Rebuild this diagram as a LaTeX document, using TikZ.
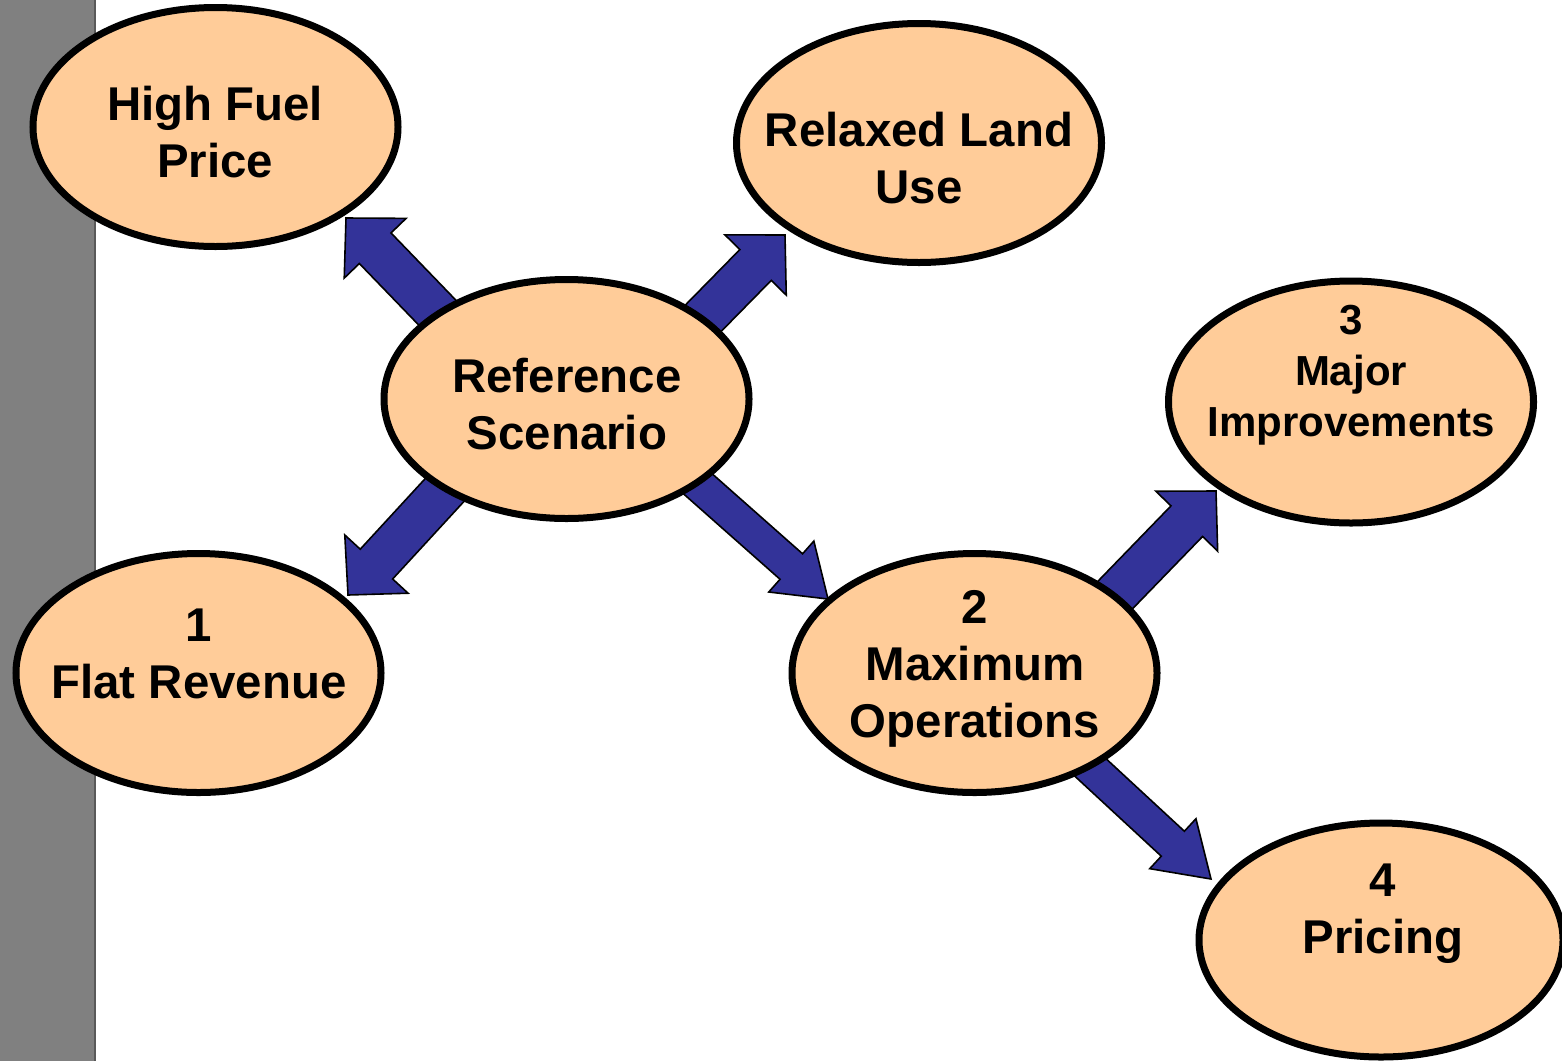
\documentclass[tikz,border=0pt]{standalone}
\usepackage{fontspec}
\setmainfont{Liberation Sans}
\usetikzlibrary{calc,shapes.geometric,backgrounds}
\definecolor{peach}{HTML}{FFCC99}
\definecolor{arrowblue}{HTML}{333399}
\definecolor{bargray}{HTML}{808080}
% block arrow: #1 start, #2 tip, #3 shaft half width, #4 head half width, #5 head length
\newcommand\blockarrow[5]{%
  \draw[blockarrow] let \p1=(#1), \p2=(#2), \n1={atan2(\y2-\y1,\x2-\x1)} in
    ($(\p1)+(\n1+90:#3)$) --
    ($(\p2)+(\n1+180:#5)+(\n1+90:#3)$) --
    ($(\p2)+(\n1+180:#5)+(\n1+90:#4)$) --
    (\p2) --
    ($(\p2)+(\n1+180:#5)+(\n1-90:#4)$) --
    ($(\p2)+(\n1+180:#5)+(\n1-90:#3)$) --
    ($(\p1)+(\n1-90:#3)$) -- cycle;}
\tikzset{
  oval/.style={ellipse, draw=black, line width=3.5pt, fill=peach,
    minimum width=182.5pt, minimum height=119.5pt, inner sep=0pt},
  txt/.style={anchor=north, inner sep=0pt, align=center,
    font=\fontsize{23.7}{28.5}\selectfont\bfseries},
  smalltxt/.style={txt, font=\fontsize{21}{25.5}\selectfont\bfseries},
  blockarrow/.style={fill=arrowblue, draw=black, line width=0.8pt, line join=miter}
}
\begin{document}
\begin{tikzpicture}[x=0.5pt, y=-0.5pt]
\useasboundingbox (0,0) rectangle (1562,1061);
% ellipses
\node[oval] (hfp) at (215.5,127) {};
\node[oval] (rlu) at (919,143) {};
\node[oval] (ref) at (566.5,399) {};
\node[oval, minimum height=121pt] (maj) at (1351,402) {};
\node[oval] (flat) at (198.5,673) {};
\node[oval] (maxop) at (974.5,673) {};
\node[oval, minimum height=117pt, minimum width=182pt] (pri) at (1381,940) {};
% texts
\node[txt] (hfp-t) at (215,86) {High Fuel\\Price};
\node[txt] (rlu-t) at (919,112) {Relaxed Land\\Use};
\node[txt] (ref-t) at (567,358) {Reference\\Scenario};
\node[smalltxt] (maj-t) at (1351,305) {3\\Major\\Improvements};
\node[txt] (flat-t) at (199,608) {1\\Flat Revenue};
\node[txt] (maxop-t) at (975,590) {2\\Maximum\\Operations};
\node[txt] (pri-t) at (1383,863) {4\\Pricing};
% arrow end points
\coordinate (a1s) at (457,333);  \coordinate (a1t) at (346,218);
\coordinate (a2s) at (673,349);  \coordinate (a2t) at (785,235);
\coordinate (a3s) at (463,470);  \coordinate (a3t) at (348,595);
\coordinate (a4s) at (663,453);  \coordinate (a4t) at (828,599);
\coordinate (a5s) at (1091,620); \coordinate (a5t) at (1216,491);
\coordinate (a6s) at (1064,743); \coordinate (a6t) at (1211,879);
\begin{scope}[on background layer]
  \fill[bargray] (0,0) rectangle (96,1061);
  \draw[black!65, line width=0.8pt] (95,0) -- (95,1061);
  \blockarrow{a1s}{a1t}{11pt}{21.5pt}{21pt}
  \blockarrow{a2s}{a2t}{11pt}{21.5pt}{21pt}
  \blockarrow{a3s}{a3t}{11pt}{21.5pt}{21pt}
  \blockarrow{a4s}{a4t}{8.5pt}{17pt}{24.5pt}
  \blockarrow{a5s}{a5t}{11pt}{21.5pt}{21pt}
  \blockarrow{a6s}{a6t}{8.5pt}{17pt}{26pt}
\end{scope}
\end{tikzpicture}
\end{document}
